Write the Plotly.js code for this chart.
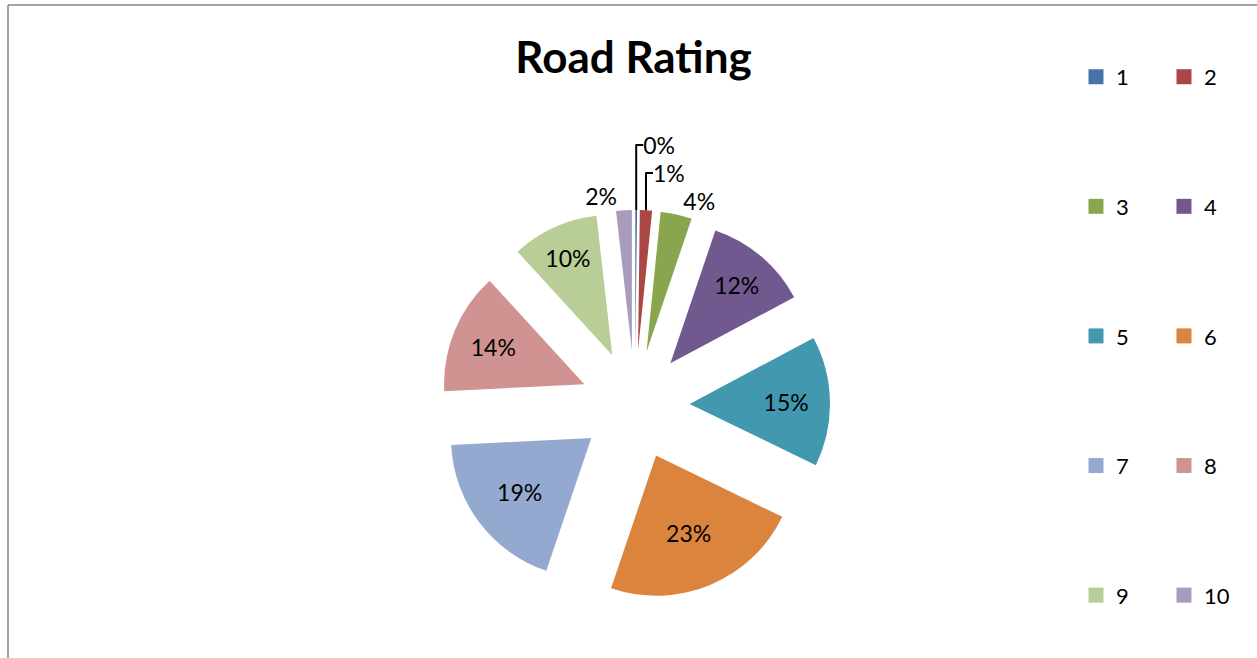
<!DOCTYPE html>
<html>
<head>
<meta charset="utf-8">
<script src="https://cdn.plot.ly/plotly-3.0.1.min.js"></script>
<style>
  html, body { margin: 0; padding: 0; background: #ffffff; }
  #chart { width: 1257px; height: 658px; }
</style>
</head>
<body>
<div id="chart"></div>
<script>
// Rating categories (1..10) and number of responses per rating
var categories = ['1', '2', '3', '4', '5', '6', '7', '8', '9', '10'];
var counts = [1, 7, 18, 60, 75, 115, 95, 70, 50, 9];
var sliceColors = ['#4572A7', '#AA4643', '#89A54E', '#71588F', '#4198AF',
                   '#DB843D', '#93A9CF', '#D19392', '#B9CD96', '#A99BBD'];
var labelPositions = ['outside', 'outside', 'outside', 'inside', 'inside',
                      'inside', 'inside', 'inside', 'inside', 'outside'];

var FONT = 'Lato, "Open Sans", sans-serif';

var pieTrace = {
  type: 'pie',
  labels: categories,
  values: counts,
  sort: false,
  direction: 'clockwise',
  rotation: 0,
  pull: 0.39,
  marker: { colors: sliceColors, line: { width: 0 } },
  texttemplate: '%{percent:.0%}',
  textposition: labelPositions,
  insidetextorientation: 'horizontal',
  textfont: { family: FONT, size: 23, color: '#000000' },
  outsidetextfont: { family: FONT, size: 23, color: '#000000' },
  insidetextfont: { family: FONT, size: 23, color: '#000000' },
  showlegend: false,
  hoverinfo: 'label+percent',
  domain: { x: [0.3500, 0.6603], y: [0.0881, 0.6809] }
};

// Legend entries: odd ratings in the left column, even ratings in the right column
var legendTraces = categories.map(function (c, i) {
  return {
    type: 'scatter',
    x: [null], y: [null],
    mode: 'markers',
    name: c,
    legendgroup: 'g' + c,
    legend: (i % 2 === 0) ? 'legend' : 'legend2',
    marker: { symbol: 'square', size: 15, color: sliceColors[i] },
    hoverinfo: 'skip',
    showlegend: true
  };
});

var legendCommon = {
  orientation: 'v',
  xanchor: 'left',
  yanchor: 'top',
  y: 0.915,
  tracegroupgap: 98,
  font: { family: FONT, size: 22, color: '#000000' },
  bgcolor: 'rgba(0,0,0,0)',
  itemclick: false,
  itemdoubleclick: false
};

var layout = {
  width: 1257,
  height: 658,
  margin: { l: 0, r: 0, t: 0, b: 0 },
  paper_bgcolor: '#ffffff',
  plot_bgcolor: '#ffffff',
  title: {
    text: '<b>Road Rating</b>',
    font: { family: FONT, size: 44, color: '#000000' },
    x: 0.504, xanchor: 'center', xref: 'paper',
    y: 0.913, yanchor: 'middle', yref: 'container'
  },
  xaxis: { visible: false },
  yaxis: { visible: false },
  showlegend: true,
  legend: Object.assign({}, legendCommon, { x: 0.856 }),
  legend2: Object.assign({}, legendCommon, { x: 0.926 }),
  shapes: [
    { type: 'line', xref: 'paper', yref: 'paper',
      x0: 8 / 1257, x1: 1.01, y0: 1 - 5 / 658, y1: 1 - 5 / 658,
      line: { color: '#868686', width: 1.5 } },
    { type: 'line', xref: 'paper', yref: 'paper',
      x0: 8 / 1257, x1: 8 / 1257, y0: -0.01, y1: 1 - 5 / 658,
      line: { color: '#868686', width: 1.5 } }
  ]
};

Plotly.newPlot('chart', [pieTrace].concat(legendTraces), layout, { displayModeBar: false });
</script>
</body>
</html>
